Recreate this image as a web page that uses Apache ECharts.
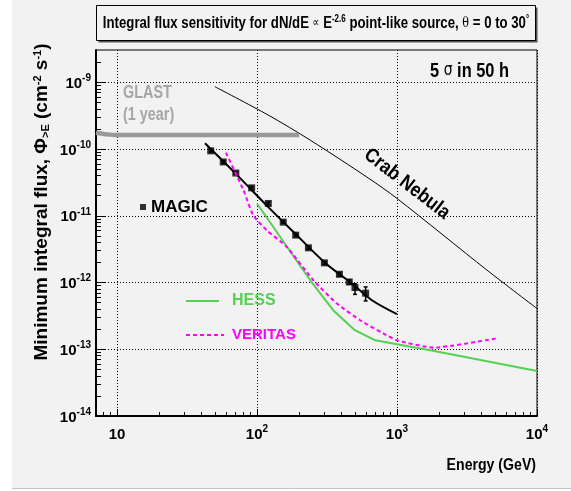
<!DOCTYPE html>
<html>
<head>
<meta charset="utf-8">
<script src="https://cdn.jsdelivr.net/npm/echarts@6/dist/echarts.min.js"></script>
<style>
html, body { margin: 0; padding: 0; background: #fff; }
#chart { width: 571px; height: 491px; }
</style>
</head>
<body>
<div id="chart"></div>
<script>
// values (energy in GeV, integral flux in cm^-2 s^-1)
var crabE = [50, 120, 240, 630, 1000, 4400, 10000];
var crabF = [8.6e-10, 3.24e-10, 1.36e-10, 3.63e-11, 1.82e-11, 1.53e-12, 4.08e-13];

var glastE = [7.08, 8.5, 10, 200];
var glastF = [1.76e-10, 1.66e-10, 1.62e-10, 1.62e-10];

var magicE = [46.7, 57.4, 70.6, 91.6, 120.5, 154, 189, 233, 303, 388, 456, 501, 597];
var magicF = [9.4e-11, 6.4e-11, 4.37e-11, 2.62e-11, 1.53e-11, 8.03e-12, 5.13e-12, 3.31e-12, 1.97e-12, 1.33e-12, 1.02e-12, 8.43e-13, 6.92e-13];
var magicLo = [9.0e-11, 6.1e-11, 4.2e-11, 2.5e-11, 1.46e-11, 7.7e-12, 4.9e-12, 3.15e-12, 1.87e-12, 1.25e-12, 9.5e-13, 6.64e-13, 5.3e-13];
var magicHi = [9.8e-11, 6.7e-11, 4.55e-11, 2.75e-11, 1.6e-11, 8.4e-12, 5.4e-12, 3.47e-12, 2.07e-12, 1.41e-12, 1.09e-12, 9.6e-13, 8.6e-13];

var fitE = [42.5, 70.4, 120.5, 189, 303, 497, 662, 1000];
var fitF = [1.22e-10, 4.28e-11, 1.35e-11, 5.31e-12, 2.02e-12, 8.97e-13, 5.43e-13, 3.35e-13];

var hessE = [100, 240, 350, 500, 700, 1000, 1730, 10000];
var hessF = [1.53e-11, 1.08e-12, 3.85e-13, 1.93e-13, 1.36e-13, 1.19e-13, 9.7e-14, 4.73e-14];

var veritasE = [60, 80, 94, 117, 163, 253, 372, 546, 802, 1000, 1830, 5060];
var veritasF = [8.8e-11, 2.43e-11, 1.02e-11, 6.1e-12, 3.42e-12, 1.08e-12, 4.85e-13, 2.72e-13, 1.72e-13, 1.36e-13, 1.06e-13, 1.45e-13];

var majorE = [10, 100, 1000, 10000];
var minorE = [8, 9, 20, 30, 40, 50, 60, 70, 80, 90, 200, 300, 400, 500, 600, 700, 800, 900,
              2000, 3000, 4000, 5000, 6000, 7000, 8000, 9000];
var majorF = [1e-14, 1e-13, 1e-12, 1e-11, 1e-10, 1e-9];
var minorF = [];
[-14, -13, -12, -11, -10, -9].forEach(function (p) {
    [2, 3, 4, 5, 6, 7, 8, 9].forEach(function (k) {
        var v = k * Math.pow(10, p);
        if (v < 3e-9) minorF.push(v);
    });
});

var FONT = '"Liberation Sans", Arial, sans-serif';
var GREEN = '#55d055';
var MAGENTA = '#ff00ff';

function pow10Label(v) {
    var n = Math.round(Math.log10(v));
    if (n === 1) return '{b|10}';
    return '{b|10}{s|' + n + '}';
}
var labelRich = {
    b: { fontFamily: FONT, fontWeight: 'bold', fontSize: 15, color: '#000', lineHeight: 18, verticalAlign: 'bottom' },
    s: { fontFamily: FONT, fontWeight: 'bold', fontSize: 10, color: '#000', lineHeight: 10, verticalAlign: 'top' }
};

function pairs(xs, ys) {
    return xs.map(function (x, i) { return [x, ys[i]]; });
}

var xMin = 7.08, xMax = 10001;
var yMin = 0.9999e-14, yMax = 3.05e-9;

var chart = echarts.init(document.getElementById('chart'));
var option = {
    backgroundColor: '#f2f2f2',
    animation: false,
    grid: {
        left: 96, top: 50, width: 441, height: 366,
        show: true, borderColor: '#000', borderWidth: 1,
        outerBoundsMode: 'none'
    },
    xAxis: [
        {
            type: 'log', min: xMin, max: xMax, position: 'bottom',
            axisLine: { show: true, lineStyle: { color: '#000', width: 2 } },
            axisTick: { show: true, inside: true, length: 7, customValues: majorE, lineStyle: { color: '#000' } },
            axisLabel: { customValues: majorE, formatter: pow10Label, margin: 8, rich: labelRich },
            splitLine: { show: true, lineStyle: { color: '#000', type: [1, 2], width: 1 } }
        },
        {
            type: 'log', min: xMin, max: xMax, position: 'bottom',
            axisLine: { show: false },
            axisTick: { show: true, inside: true, length: 4, customValues: minorE, lineStyle: { color: '#000' } },
            axisLabel: { show: false },
            splitLine: { show: false }
        }
    ],
    yAxis: [
        {
            type: 'log', min: yMin, max: yMax, position: 'left',
            axisLine: { show: true, lineStyle: { color: '#000', width: 2 } },
            axisTick: { show: true, inside: true, length: 10, customValues: majorF, lineStyle: { color: '#000' } },
            axisLabel: { customValues: majorF, formatter: pow10Label, margin: 5, rich: labelRich },
            splitLine: { show: true, lineStyle: { color: '#000', type: [1, 2], width: 1 } }
        },
        {
            type: 'log', min: yMin, max: yMax, position: 'left',
            axisLine: { show: false },
            axisTick: { show: true, inside: true, length: 5, customValues: minorF, lineStyle: { color: '#000' } },
            axisLabel: { show: false },
            splitLine: { show: false }
        }
    ],
    legend: [
        {
            data: ['MAGIC'], left: 140, top: 198, padding: 0, selectedMode: false,
            icon: 'rect', itemWidth: 6, itemHeight: 6,
            textStyle: { fontFamily: FONT, fontWeight: 'bold', fontSize: 17, color: '#000', lineHeight: 18 }
        },
        {
            data: [{ name: 'HESS', textStyle: { color: GREEN } }], left: 185, top: 291, padding: 0, selectedMode: false,
            itemWidth: 33, itemHeight: 14, itemStyle: { opacity: 0 },
            textStyle: { fontFamily: FONT, fontWeight: 'bold', fontSize: 16, lineHeight: 20, padding: [0, 0, 0, 8] }
        },
        {
            data: [{ name: 'VERITAS', textStyle: { color: MAGENTA } }], left: 185, top: 325, padding: 0, selectedMode: false,
            itemWidth: 38, itemHeight: 14, itemStyle: { opacity: 0 },
            textStyle: { fontFamily: FONT, fontWeight: 'bold', fontSize: 15, lineHeight: 20, padding: [0, 0, 0, 3] }
        }
    ],
    series: [
        {
            name: 'Crab', type: 'line', data: pairs(crabE, crabF), smooth: 0.3,
            showSymbol: false, symbol: 'none', silent: true,
            lineStyle: { color: '#000', width: 1 }
        },
        {
            name: 'GLAST', type: 'line', data: pairs(glastE, glastF), smooth: 0.3,
            symbol: 'none', silent: true,
            lineStyle: { color: '#999', width: 4.5, cap: 'butt' }
        },
        {
            name: 'MAGIC fit', type: 'line', data: pairs(fitE, fitF), smooth: 0.3,
            symbol: 'none', silent: true,
            lineStyle: { color: '#000', width: 2 }
        },
        {
            name: 'MAGIC err', type: 'custom', silent: true,
            data: magicE.map(function (e, i) { return [e, magicLo[i], magicHi[i]]; }),
            encode: { x: 0, y: [1, 2] },
            renderItem: function (params, api) {
                var lo = api.coord([api.value(0), api.value(1)]);
                var hi = api.coord([api.value(0), api.value(2)]);
                var st = { stroke: '#000', lineWidth: 1.5 };
                return {
                    type: 'group',
                    children: [
                        { type: 'line', shape: { x1: lo[0], y1: lo[1], x2: hi[0], y2: hi[1] }, style: st },
                        { type: 'line', shape: { x1: lo[0] - 2, y1: lo[1], x2: lo[0] + 2, y2: lo[1] }, style: st },
                        { type: 'line', shape: { x1: hi[0] - 2, y1: hi[1], x2: hi[0] + 2, y2: hi[1] }, style: st }
                    ]
                };
            }
        },
        {
            name: 'MAGIC', type: 'scatter', data: pairs(magicE, magicF),
            symbol: 'rect', symbolSize: 7, silent: true,
            itemStyle: { color: '#000' }
        },
        {
            name: 'HESS', type: 'line', data: pairs(hessE, hessF),
            symbol: 'none', silent: true,
            lineStyle: { color: GREEN, width: 2 }, itemStyle: { color: GREEN }
        },
        {
            name: 'VERITAS', type: 'line', data: pairs(veritasE, veritasF), smooth: 0.2,
            symbol: 'none', silent: true,
            lineStyle: { color: MAGENTA, width: 2, type: [4, 3] }, itemStyle: { color: MAGENTA }
        }
    ],
    graphic: [
        { type: 'rect', left: 0, top: 0, shape: { width: 12, height: 491 }, style: { fill: '#fff' } },
        { type: 'rect', left: 0, top: 489, shape: { width: 571, height: 2 }, style: { fill: '#fff' } },
        { type: 'line', shape: { x1: 12, y1: 488.5, x2: 571, y2: 488.5 }, style: { stroke: '#c4c4c4', lineWidth: 1 } },
        // title box with shadow
        { type: 'rect', shape: { x: 98.5, y: 7.5, width: 439, height: 35 }, style: { fill: '#555' } },
        { type: 'rect', shape: { x: 96.5, y: 5.5, width: 439, height: 35 }, style: { fill: '#f2f2f2', stroke: '#000', lineWidth: 1 } },
        {
            type: 'text', x: 316, y: 23, scaleX: 0.8,
            style: {
                text: 'Integral flux sensitivity for dN/dE {sym|\u221d} E{sup|-2.6} point-like source, {th|\u03b8} = 0 to 30{sup|\u00b0}',
                align: 'center', verticalAlign: 'middle',
                font: 'bold 16.5px ' + FONT, fill: '#000',
                rich: {
                    sym: { fontFamily: 'DejaVu Sans', fontSize: 12, fill: '#000' },
                    th: { fontFamily: 'DejaVu Serif', fontSize: 14, fill: '#000' },
                    sup: { fontFamily: FONT, fontWeight: 'bold', fontSize: 10, fill: '#000', lineHeight: 8, verticalAlign: 'top' }
                }
            }
        },
        {
            type: 'text', x: 42, y: 202, rotation: Math.PI / 2,
            style: {
                text: 'Minimum integral flux, \u03a6{sub|>E} (cm{sup|-2} s{sup|-1})',
                align: 'center', verticalAlign: 'middle',
                font: 'bold 19px ' + FONT, fill: '#000',
                rich: {
                    sub: { fontFamily: FONT, fontWeight: 'bold', fontSize: 11, fill: '#000', lineHeight: 10, verticalAlign: 'bottom' },
                    sup: { fontFamily: FONT, fontWeight: 'bold', fontSize: 11, fill: '#000', lineHeight: 10, verticalAlign: 'top' }
                }
            }
        },
        {
            type: 'text', x: 536, y: 465, scaleX: 0.83,
            style: { text: 'Energy (GeV)', align: 'right', verticalAlign: 'middle', font: 'bold 17px ' + FONT, fill: '#000' }
        },
        {
            type: 'text', x: 430, y: 71, scaleX: 0.82,
            style: {
                text: '5 {s|\u03c3} in 50 h', align: 'left', verticalAlign: 'middle',
                font: 'bold 20px ' + FONT, fill: '#000',
                rich: { s: { fontFamily: 'DejaVu Sans', fontSize: 17, fill: '#000' } }
            }
        },
        {
            type: 'text', x: 407, y: 184, rotation: -0.656, scaleX: 0.87,
            style: { text: 'Crab Nebula', align: 'center', verticalAlign: 'middle', font: 'bold 20px ' + FONT, fill: '#000' }
        },
        {
            type: 'text', x: 123, y: 93, scaleX: 0.8,
            style: { text: 'GLAST', align: 'left', verticalAlign: 'middle', font: 'bold 18px ' + FONT, fill: '#a6a6a6' }
        },
        {
            type: 'text', x: 123, y: 115, scaleX: 0.8,
            style: { text: '(1 year)', align: 'left', verticalAlign: 'middle', font: 'bold 18px ' + FONT, fill: '#a6a6a6' }
        }
    ]
};
chart.setOption(option);
</script>
</body>
</html>
